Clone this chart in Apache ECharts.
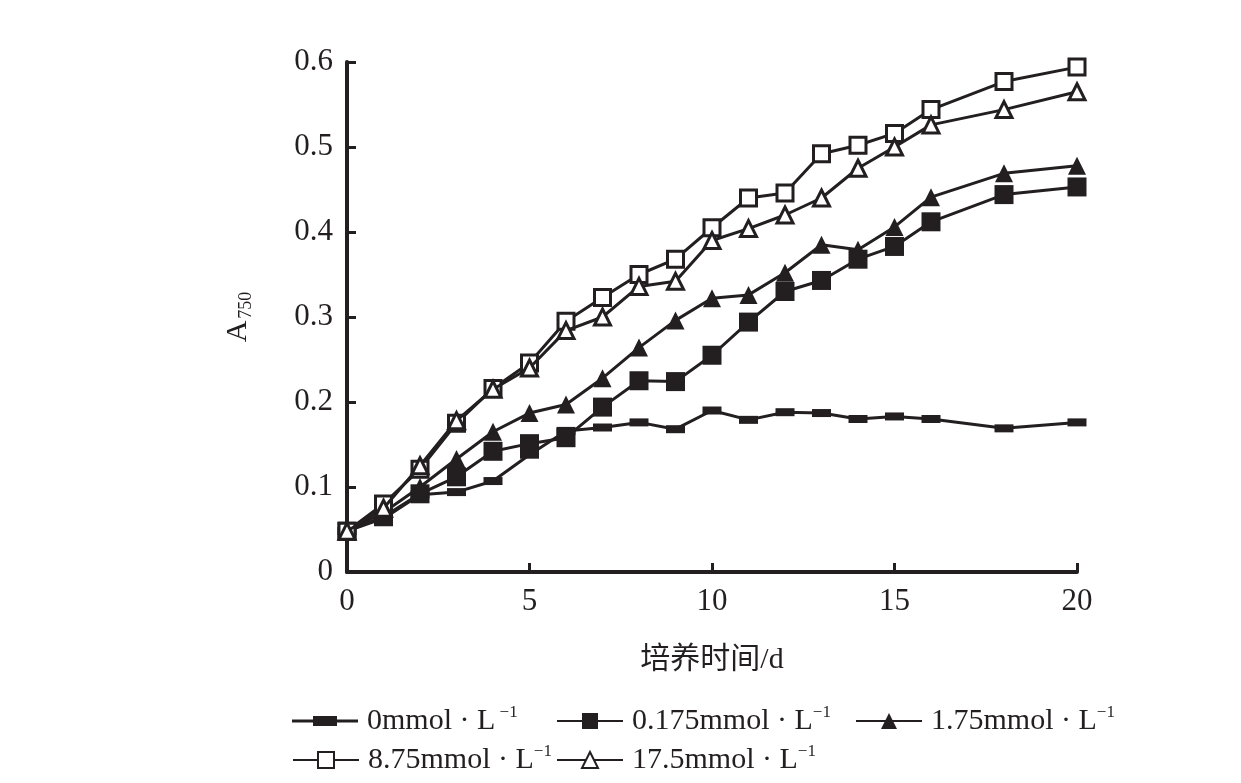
<!DOCTYPE html>
<html>
<head>
<meta charset="utf-8">
<script src="https://cdn.jsdelivr.net/npm/echarts@6/dist/echarts.min.js"></script>
<style>html,body{margin:0;padding:0;background:#fff}#c{width:1241px;height:783px}</style>
</head>
<body>
<div id="c"></div>
<script>
const days = [0,1,2,3,4,5,6,7,8,9,10,11,12,13,14,15,16,18,20];
const s0     = [0.048,0.063,0.091,0.094,0.107,0.138,0.166,0.170,0.176,0.168,0.190,0.179,0.188,0.187,0.180,0.183,0.180,0.169,0.176];
const s0175  = [0.048,0.065,0.092,0.112,0.142,0.151,0.158,0.194,0.225,0.224,0.255,0.294,0.330,0.343,0.368,0.383,0.412,0.444,0.453];
const s175   = [0.048,0.070,0.100,0.133,0.165,0.187,0.197,0.228,0.264,0.296,0.322,0.326,0.352,0.385,0.379,0.406,0.441,0.469,0.478];
const s875   = [0.048,0.080,0.121,0.175,0.216,0.246,0.295,0.323,0.350,0.368,0.405,0.440,0.446,0.492,0.502,0.516,0.544,0.577,0.594];
const s175b  = [0.048,0.075,0.125,0.178,0.215,0.240,0.284,0.300,0.336,0.342,0.390,0.404,0.420,0.440,0.475,0.500,0.526,0.544,0.565];
const names  = ['0mmol · L', '0.175mmol · L', '1.75mmol · L', '8.75mmol · L', '17.5mmol · L'];
const supers = [' −1', '−1', '−1', '−1', '−1'];
const xTicks = [0,5,10,15,20];
const yTicks = [0,0.1,0.2,0.3,0.4,0.5,0.6];

const INK = '#231f20';
const FONT = '"Liberation Serif", "Noto Sans CJK SC", serif';
const pair = arr => days.map((d,i)=>[d, arr[i]]);

const symbols = [
  {symbol:'rect', symbolSize:[19,8], fill:INK},
  {symbol:'rect', symbolSize:19, fill:INK},
  {symbol:'triangle', symbolSize:18, fill:INK},
  {symbol:'rect', symbolSize:16, fill:'#fff'},
  {symbol:'triangle', symbolSize:16, fill:'#fff'}
];
const allData = [s0, s0175, s175, s875, s175b];

const series = allData.map((arr,i)=>({
  type:'line', name:names[i], data:pair(arr),
  symbol:symbols[i].symbol, symbolSize:symbols[i].symbolSize,
  showAllSymbol:true,
  lineStyle:{color:INK, width:3},
  itemStyle:{color:symbols[i].fill, borderColor:INK, borderWidth: symbols[i].fill==='#fff'?3:0},
  emphasis:{disabled:true},
  z: 2+i
}));

const legendPos = [
  {left:292, top:704}, {left:556, top:704}, {left:855, top:704},
  {left:292, top:743}, {left:556, top:743}
];
const flatIcon = 'path://M0,3.5L21,3.5L21,0L45,0L45,3.5L66,3.5L66,6.5L45,6.5L45,10L21,10L21,6.5L0,6.5Z';
const legends = names.map((n,i)=>({
  data: i===0 ? [{name:n, icon:flatIcon}] : [n],
  left:legendPos[i].left, top:legendPos[i].top, padding:0,
  itemWidth:66, itemHeight: i===0 ? 10 : 20, selectedMode:false,
  formatter: name => '{t|' + name + '}{s|' + supers[names.indexOf(name)] + '}',
  textStyle:{
    fontFamily:FONT, color:INK, padding:[0,0,0,4],
    rich:{
      t:{fontFamily:FONT, fontSize:30, color:INK, lineHeight:34},
      s:{fontFamily:FONT, fontSize:17, color:INK, lineHeight:34, verticalAlign:'top', padding:[0,0,14,0]}
    }
  }
}));

const chart = echarts.init(document.getElementById('c'), null, {renderer:'canvas'});
chart.setOption({
  backgroundColor:'#fff',
  animation:false,
  legend: legends,
  grid:{left:347, right:164, top:62, bottom:211, containLabel:false},
  xAxis:{
    type:'value', min:0, max:20, interval:5,
    name:'培养时间/d', nameLocation:'middle', nameGap:73,
    nameTextStyle:{fontFamily:FONT, fontSize:30, color:INK},
    axisLine:{show:true, onZero:false, lineStyle:{color:INK, width:4}},
    axisTick:{show:true, inside:true, length:9, lineStyle:{color:INK, width:3}},
    axisLabel:{fontFamily:FONT, fontSize:31, color:INK, margin:14,
      formatter: v => xTicks.includes(v) ? String(v) : ''},
    splitLine:{show:false}
  },
  yAxis:{
    type:'value', min:0, max:0.6, interval:0.1,
    name:'{a|A}{b|750}', nameLocation:'middle', nameGap:92, nameRotate:90,
    nameTextStyle:{fontFamily:FONT, color:INK,
      rich:{
        a:{fontFamily:FONT, fontSize:30, color:INK, lineHeight:34},
        b:{fontFamily:FONT, fontSize:18, color:INK, lineHeight:34, verticalAlign:'bottom', padding:[12,0,0,2]}
      }},
    axisLine:{show:true, onZero:false, lineStyle:{color:INK, width:4}},
    axisTick:{show:true, inside:true, length:9, lineStyle:{color:INK, width:3}},
    axisLabel:{fontFamily:FONT, fontSize:31, color:INK, margin:14,
      formatter: v => { const t = yTicks.find(y=>Math.abs(y-v)<1e-9); return t===undefined ? '' : (t===0 ? '0' : t.toFixed(1)); }},
    splitLine:{show:false}
  },
  series: series
});
</script>
</body>
</html>
